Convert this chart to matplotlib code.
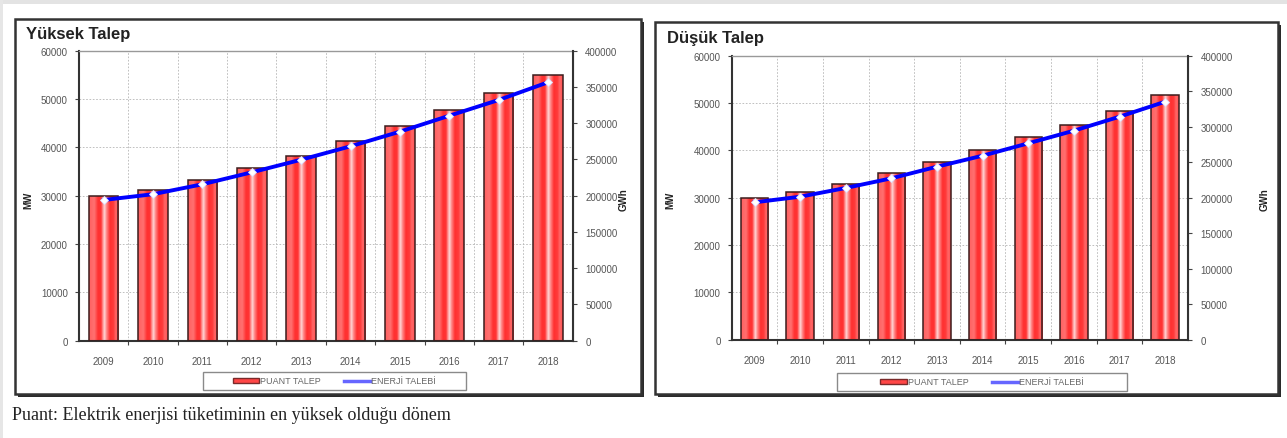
import numpy as np
import matplotlib
matplotlib.use("Agg")
import matplotlib.pyplot as plt
from matplotlib.colors import LinearSegmentedColormap
from matplotlib.patches import Rectangle, Patch
from matplotlib.lines import Line2D

plt.rcParams["font.family"] = ["Liberation Sans", "DejaVu Sans"]

years = ["2009", "2010", "2011", "2012", "2013", "2014", "2015", "2016", "2017", "2018"]

# Yüksek talep senaryosu
high_peak_mw = [30000, 31200, 33300, 35700, 38300, 41400, 44400, 47700, 51300, 55000]
high_energy_gwh = [194000, 202000, 215700, 232200, 249600, 268100, 288300, 310300, 332000, 356400]

# Düşük talep senaryosu
low_peak_mw = [29900, 31100, 32900, 35200, 37600, 40000, 42800, 45400, 48400, 51700]
low_energy_gwh = [193500, 201400, 213700, 227300, 243700, 259200, 276600, 294400, 314100, 335200]

mw_ticks = [0, 10000, 20000, 30000, 40000, 50000, 60000]
gwh_ticks = [0, 50000, 100000, 150000, 200000, 250000, 300000, 350000, 400000]

W, H = 1287, 439
fig = plt.figure(figsize=(W / 100, H / 100), dpi=100)
fig.patch.set_facecolor("white")


def fx(x):
    return x / W


def fy(y):
    return 1 - y / H


# striped red fill used inside each bar
bar_cmap = LinearSegmentedColormap.from_list(
    "bar",
    [(0.00, "#ff6060"), (0.18, "#ff7070"), (0.30, "#ff3030"), (0.40, "#ff3434"),
     (0.46, "#ff9090"), (0.52, "#ffd8d8"), (0.58, "#ff9090"), (0.70, "#ff3030"),
     (0.82, "#ff3a3a"), (0.90, "#ff6868"), (1.00, "#ff5050")])
grad = bar_cmap(np.linspace(0, 1, 128)).reshape(1, 128, 4)

tick_color = "#555555"

# light grey band along the top and left edges
fig.add_artist(Rectangle((0, fy(5)), 1, 5 / H, transform=fig.transFigure,
                         facecolor="#e3e3e3", edgecolor="none", zorder=-5))
fig.add_artist(Rectangle((0, 0), 3 / W, 1, transform=fig.transFigure,
                         facecolor="#e6e6e6", edgecolor="none", zorder=-5))


def panel(frame_box, plot_box, title, title_xy, peak, energy, mw_x, gwh_x, legend_box):
    x0, y0, x1, y1 = frame_box
    fig.add_artist(Rectangle((fx(x0 + 2.5), fy(y1 + 2.5)), (x1 - x0) / W, (y1 - y0) / H,
                             transform=fig.transFigure, facecolor="#2a2a2a",
                             edgecolor="none", zorder=-3))
    fig.add_artist(Rectangle((fx(x0), fy(y1)), (x1 - x0) / W, (y1 - y0) / H,
                             transform=fig.transFigure, facecolor="white",
                             edgecolor="#333333", lw=1.8, zorder=-2))

    fig.text(fx(title_xy[0]), fy(title_xy[1]), title, fontsize=12, fontweight="bold",
             color="#222222", ha="left", va="center")

    px0, py0, px1, py1 = plot_box
    ax = fig.add_axes([fx(px0), fy(py1), (px1 - px0) / W, (py1 - py0) / H])
    ax.set_facecolor("white")
    x = np.arange(len(years))

    bars = ax.bar(x, peak, width=0.6, color="none", edgecolor="#3c1c1c", lw=1.1, zorder=3)
    for b in bars:
        im = ax.imshow(grad, extent=(b.get_x(), b.get_x() + b.get_width(), 0, b.get_height()),
                       aspect="auto", interpolation="bilinear", zorder=2.5)
        im.set_clip_path(b)

    ax.set_xlim(-0.5, len(years) - 0.5)
    ax.set_ylim(0, 60000)
    ax.set_yticks(mw_ticks)
    ax.set_yticklabels([str(v) for v in mw_ticks])
    ax.set_xticks(x)
    ax.set_xticklabels(years)
    ax.set_xticks(np.arange(0.5, len(years) - 1, 1), minor=True)
    ax.set_axisbelow(True)
    ax.yaxis.grid(True, color="#b5b5b5", lw=0.6, ls=(0, (2, 2)))
    ax.xaxis.grid(True, which="minor", color="#b5b5b5", lw=0.6, ls=(0, (2, 2)))
    ax.tick_params(axis="x", which="major", length=0, pad=11, labelsize=7, labelcolor=tick_color)
    ax.tick_params(axis="x", which="minor", length=3, width=0.8, color="#444444", direction="out")
    ax.tick_params(axis="y", length=3, width=0.8, color="#444444", pad=5, labelsize=7,
                   labelcolor=tick_color)
    for side in ("left", "bottom"):
        ax.spines[side].set_color("#333333")
        ax.spines[side].set_linewidth(1.5)
    ax.spines["top"].set_color("#999999")
    ax.spines["top"].set_linewidth(1.0)
    ax.spines["right"].set_color("#999999")

    ax2 = ax.twinx()
    ax2.set_ylim(0, 400000)
    ax2.set_yticks(gwh_ticks)
    ax2.set_yticklabels([str(v) for v in gwh_ticks])
    ax2.tick_params(axis="y", length=3, width=0.8, color="#444444", pad=6, labelsize=7,
                    labelcolor=tick_color)
    ax2.spines["right"].set_color("#333333")
    ax2.spines["right"].set_linewidth(1.5)
    for side in ("left", "top", "bottom"):
        ax2.spines[side].set_visible(False)
    ax2.plot(x, energy, color="#0000ff", lw=2.8, marker="D", ms=4, mfc="white",
             mec="#dcdcff", mew=0.6, zorder=5)

    fig.text(fx(mw_x), fy(200), "MW", rotation=90, fontsize=7, fontweight="bold",
             color="#222222", ha="center", va="center")
    fig.text(fx(gwh_x), fy(200), "GWh", rotation=90, fontsize=7, fontweight="bold",
             color="#222222", ha="center", va="center")

    lx0, ly0, lx1, ly1 = legend_box
    fig.add_artist(Rectangle((fx(lx0), fy(ly1)), (lx1 - lx0) / W, (ly1 - ly0) / H,
                             transform=fig.transFigure, facecolor="white",
                             edgecolor="#8a8a8a", lw=1.0, zorder=4))
    handles = [Patch(facecolor="#ff4646", edgecolor="#7a2a2a", lw=1.0),
               Line2D([], [], color="#6666ff", lw=2.5)]
    leg = fig.legend(handles, ["PUANT TALEP", "ENERJİ TALEBİ"], ncol=2, loc="center",
                     bbox_to_anchor=(fx((lx0 + lx1) / 2), fy((ly0 + ly1) / 2)),
                     bbox_transform=fig.transFigure, frameon=False, fontsize=6.5,
                     handlelength=2.9, handleheight=0.5, handletextpad=0.1,
                     columnspacing=2.6, borderpad=0.2)
    leg.set_zorder(5)
    for t in leg.get_texts():
        t.set_color("#666666")


panel((15, 20, 641, 395), (79, 51.7, 572.7, 341.6), "Yüksek Talep", (26, 35),
      high_peak_mw, high_energy_gwh, 28, 624, (203, 373, 466, 391))
panel((655, 23, 1278, 395), (731.7, 56.7, 1188, 340.7), "Düşük Talep", (667, 38),
      low_peak_mw, low_energy_gwh, 670, 1265, (837, 374, 1127, 392))

fig.text(fx(12), fy(416), "Puant: Elektrik enerjisi tüketiminin en yüksek olduğu dönem",
         family="Liberation Serif", fontsize=13, color="#222222", ha="left", va="center")

fig.savefig("out.png", dpi=100, facecolor="white")
